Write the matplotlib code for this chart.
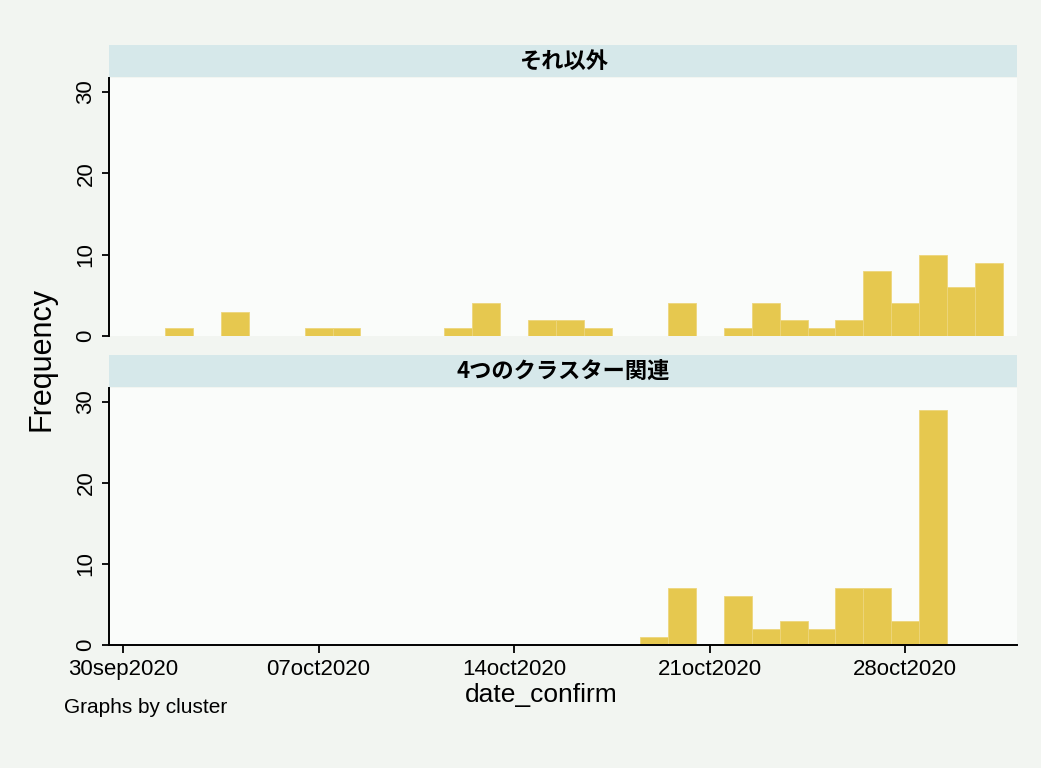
import matplotlib
matplotlib.use("Agg")
import matplotlib.pyplot as plt
import pandas as pd

plt.rcParams['font.family'] = ['Liberation Sans', 'Noto Sans CJK JP', 'DejaVu Sans']

# counts per confirmation date, one panel per cluster
other_dates = ["2020-10-02", "2020-10-04", "2020-10-07", "2020-10-08", "2020-10-12",
               "2020-10-13", "2020-10-15", "2020-10-16", "2020-10-17", "2020-10-20",
               "2020-10-22", "2020-10-23", "2020-10-24", "2020-10-25", "2020-10-26",
               "2020-10-27", "2020-10-28", "2020-10-29", "2020-10-30", "2020-10-31"]
other_counts = [1, 3, 1, 1, 1, 4, 2, 2, 1, 4, 1, 4, 2, 1, 2, 8, 4, 10, 6, 9]

cluster_dates = ["2020-10-19", "2020-10-20", "2020-10-22", "2020-10-23", "2020-10-24",
                 "2020-10-25", "2020-10-26", "2020-10-27", "2020-10-28", "2020-10-29"]
cluster_counts = [1, 7, 6, 2, 3, 2, 7, 7, 3, 29]

panel_titles = ["それ以外", "4つのクラスター関連"]
tick_dates = ["2020-09-30", "2020-10-07", "2020-10-14", "2020-10-21", "2020-10-28"]
tick_labels = ["30sep2020", "07oct2020", "14oct2020", "21oct2020", "28oct2020"]
y_ticks = [0, 10, 20, 30]

start = pd.Timestamp("2020-09-30")
def days(ds):
    return [(pd.Timestamp(d) - start).days for d in ds]

bg = "#f2f5f1"
plot_bg = "#fafcfa"
strip_bg = "#d6e8ea"
bar_col = "#e6c84f"

fig = plt.figure(figsize=(10.41, 7.68), dpi=100, facecolor=bg)

left, width = 0.1047, 0.8723
ax_top = fig.add_axes([left, 0.5625, width, 0.336])
ax_bot = fig.add_axes([left, 0.1602, width, 0.3346])
st_top = fig.add_axes([left, 0.8997, width, 0.0417])
st_bot = fig.add_axes([left, 0.496, width, 0.0417])

panels = [(ax_top, other_dates, other_counts), (ax_bot, cluster_dates, cluster_counts)]
for ax, ds, cs in panels:
    ax.set_facecolor(plot_bg)
    ax.bar(days(ds), cs, width=1.0, color=bar_col, edgecolor="#edd67c", linewidth=0.6)
    ax.set_xlim(-0.5, 32.0)
    ax.set_ylim(0, 31.7)
    ax.set_yticks(y_ticks)
    ax.set_yticklabels([str(v) for v in y_ticks], rotation=90, va="center", fontsize=16)
    for s in ["top", "right"]:
        ax.spines[s].set_visible(False)
    ax.spines["left"].set_linewidth(1.4)
    ax.spines["bottom"].set_linewidth(1.4)
    ax.tick_params(axis="y", direction="out", length=5, width=1.3, pad=4)

ax_top.spines["bottom"].set_visible(False)
ax_top.set_xticks([])

ax_bot.set_xticks(days(tick_dates))
ax_bot.set_xticklabels(tick_labels, fontsize=16)
ax_bot.tick_params(axis="x", direction="out", length=6, width=1.3, pad=4)
ax_bot.set_xlabel("date_confirm", fontsize=19)
ax_bot.xaxis.set_label_coords(0.476, -0.148)

for st, title in zip([st_top, st_bot], panel_titles):
    st.set_facecolor(strip_bg)
    st.set_xticks([])
    st.set_yticks([])
    for s in st.spines.values():
        s.set_visible(False)
    st.text(0.5, 0.5, title, ha="center", va="center", fontsize=16, weight="bold",
            family=["Noto Sans CJK JP", "DejaVu Sans"], transform=st.transAxes)

fig.text(0.04, 0.533, "Frequency", rotation=90, ha="center", va="center", fontsize=22)
fig.text(0.061, 0.079, "Graphs by cluster", ha="left", va="center", fontsize=15)

fig.savefig("out.png", dpi=100, facecolor=bg)
